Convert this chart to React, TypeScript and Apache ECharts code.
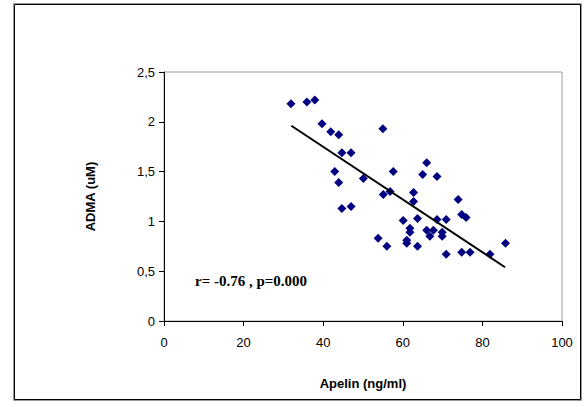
import React, { useEffect, useRef } from "react";
import * as echarts from "echarts";

const apelin = [31.9, 35.9, 37.9, 39.7, 41.9, 43.9, 44.7, 47.0, 42.9, 43.9, 44.7, 47.0, 50.1, 55.0, 57.6, 66.0, 65.0, 68.6, 55.1, 56.8, 62.7, 62.7, 73.9, 60.1, 63.7, 68.6, 70.9, 74.8, 75.9, 61.8, 61.8, 66.0, 67.7, 66.8, 69.9, 69.9, 61.0, 61.0, 53.8, 56.0, 63.7, 70.9, 74.8, 76.9, 81.9, 85.8];
const adma = [2.18, 2.20, 2.22, 1.98, 1.90, 1.87, 1.69, 1.69, 1.50, 1.39, 1.13, 1.15, 1.43, 1.93, 1.50, 1.59, 1.47, 1.45, 1.27, 1.30, 1.29, 1.20, 1.22, 1.01, 1.03, 1.02, 1.02, 1.07, 1.04, 0.93, 0.89, 0.91, 0.91, 0.85, 0.89, 0.85, 0.81, 0.78, 0.83, 0.75, 0.75, 0.67, 0.69, 0.69, 0.67, 0.78];
const trendX = [32, 85.7];
const trendY = [1.96, 0.54];
const yTickLabels: Record<string, string> = { "0": "0", "0.5": "0,5", "1": "1", "1.5": "1,5", "2": "2", "2.5": "2,5" };
const xAxisTitle = "Apelin (ng/ml)";
const yAxisTitle = "ADMA (uM)";
const annotation = "r= -0.76 , p=0.000";

export default function App() {
  const ref = useRef<HTMLDivElement>(null);
  useEffect(() => {
    if (!ref.current) return;
    const chart = echarts.init(ref.current, null, { renderer: "svg" });
    const font = "'Liberation Sans', Arial, sans-serif";
    chart.setOption({
      animation: false,
      backgroundColor: "#fff",
      grid: { left: 164, right: 26, top: 72, bottom: 86, show: true, borderColor: "#a0a0a0", borderWidth: 1, backgroundColor: "transparent" },
      xAxis: {
        type: "value", min: 0, max: 100, interval: 20,
        name: xAxisTitle, nameLocation: "middle", nameGap: 56,
        nameTextStyle: { fontFamily: font, fontSize: 13, fontWeight: "bold", color: "#000" },
        axisLine: { show: true, lineStyle: { color: "#000", width: 1 } },
        axisTick: { show: true, length: 5, lineStyle: { color: "#000" } },
        axisLabel: { fontFamily: font, fontSize: 13, color: "#000", margin: 15 },
        splitLine: { show: false },
      },
      yAxis: {
        type: "value", min: 0, max: 2.5, interval: 0.5,
        name: yAxisTitle, nameLocation: "middle", nameGap: 67, nameRotate: 90,
        nameTextStyle: { fontFamily: font, fontSize: 13, fontWeight: "bold", color: "#000" },
        axisLine: { show: true, lineStyle: { color: "#000", width: 1 } },
        axisTick: { show: true, length: 5, lineStyle: { color: "#000" } },
        axisLabel: { fontFamily: font, fontSize: 13, color: "#000", margin: 9, formatter: (v: number) => yTickLabels[String(v)] ?? String(v) },
        splitLine: { show: false },
      },
      series: [
        {
          type: "scatter",
          data: apelin.map((x, i) => [x, adma[i]]),
          symbol: "diamond",
          symbolSize: 9,
          itemStyle: { color: "#000080", opacity: 1 },
        },
        {
          type: "line",
          data: trendX.map((x, i) => [x, trendY[i]]),
          symbol: "none",
          lineStyle: { color: "#000", width: 2 },
        },
      ],
      graphic: [
        { type: "rect", shape: { x: 13.5, y: 3.5, width: 568, height: 397 }, style: { fill: "none", stroke: "#999", lineWidth: 1 }, silent: true },
        { type: "rect", shape: { x: 14.5, y: 4.5, width: 566, height: 395 }, style: { fill: "none", stroke: "#000", lineWidth: 1 }, silent: true },
        { type: "text", x: 195, y: 281, style: { text: annotation, font: "bold 15px 'Liberation Serif', 'Times New Roman', serif", fill: "#000", textVerticalAlign: "middle" } },
      ],
    });
    return () => chart.dispose();
  }, []);
  return <div ref={ref} style={{ position: "fixed", left: 0, top: 0, width: 588, height: 407 }} />;
}
